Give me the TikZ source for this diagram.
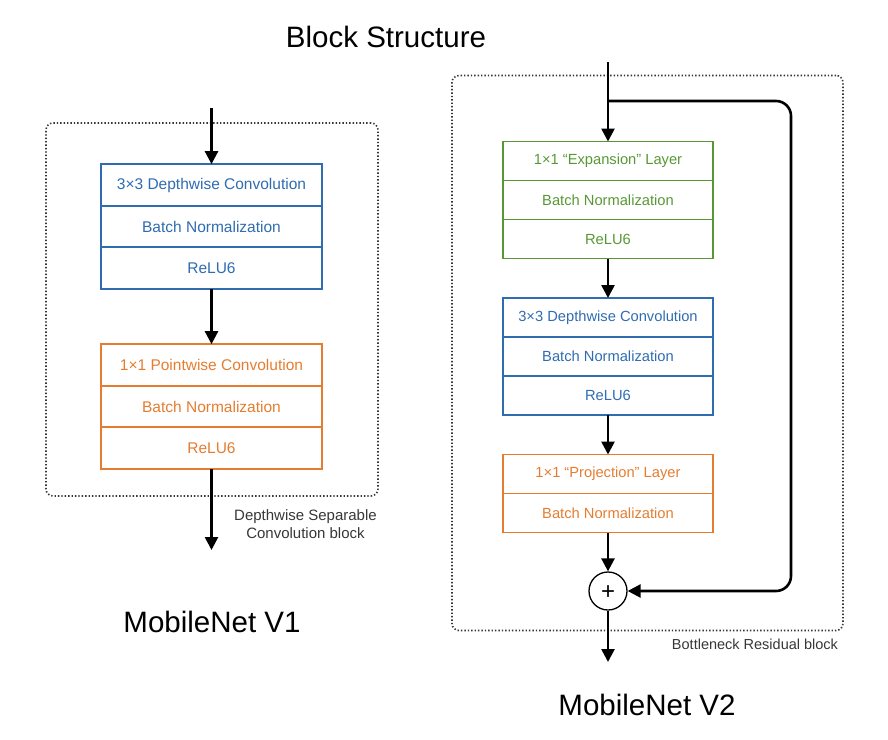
\documentclass[tikz,border=0pt]{standalone}
\usepackage{fontspec}
\setmainfont{Liberation Sans}
\usetikzlibrary{arrows.meta}
\definecolor{cblue}{RGB}{47,108,176}
\definecolor{cgreen}{RGB}{88,152,52}
\definecolor{corange}{RGB}{228,125,48}
\definecolor{cgray}{RGB}{55,55,55}
\tikzset{
  rowL/.style={draw=#1, text=#1, line width=1.6pt, rectangle, inner sep=0pt, outer sep=0pt,
    minimum width=221pt, minimum height=41.7pt, font=\fontsize{15.5}{17}\selectfont},
  rowR/.style={draw=#1, text=#1, line width=1.6pt, rectangle, inner sep=0pt, outer sep=0pt,
    minimum width=210pt, minimum height=39pt, font=\fontsize{14.7}{16}\selectfont},
  arr/.style={line width=2.6pt, -{Triangle[length=13pt,width=13pt]}},
  dotbox/.style={draw=cgray, line width=1.6pt, dash pattern=on 1.4pt off 2pt, rounded corners=7pt, inner sep=0pt},
  title/.style={font=\fontsize{29.5}{33}\selectfont, text=black},
  note/.style={font=\fontsize{15}{18}\selectfont, text=cgray, align=center},
}
\begin{document}
\begin{tikzpicture}[x=1pt,y=-1pt]
\useasboundingbox (0,0) rectangle (888,739);
% titles
\node[title] (ttl) at (386,37) {Block Structure};
\node[title] (v1) at (212,622) {MobileNet V1};
\node[title] (v2) at (647,705) {MobileNet V2};
% dotted blocks
\node[dotbox, minimum width=332pt, minimum height=373pt] (blk1) at (212,309.5) {};
\node[dotbox, minimum width=391pt, minimum height=555pt] (blk2) at (647.5,353) {};
% left column
\node[rowL=cblue] (b1) at (211.5,185) {3×3 Depthwise Convolution};
\node[rowL=cblue] (b2) at (211.5,226.5) {Batch Normalization};
\node[rowL=cblue] (b3) at (211.5,268) {ReLU6};
\node[rowL=corange] (o1) at (211.5,365) {1×1 Pointwise Convolution};
\node[rowL=corange] (o2) at (211.5,406.5) {Batch Normalization};
\node[rowL=corange] (o3) at (211.5,448) {ReLU6};
\coordinate (in1) at (211.5,108);
\coordinate (out1) at (211.5,550);
\draw[arr] (in1) -- (b1.north);
\draw[arr] (b3.south) -- (o1.north);
\draw[arr] (o3.south) -- (out1);
\node[note, anchor=north] (n1) at (305.5,506) {Depthwise Separable\\Convolution block};
% right column
\node[rowR=cgreen] (g1) at (608,161) {1×1 “Expansion” Layer};
\node[rowR=cgreen] (g2) at (608,200) {Batch Normalization};
\node[rowR=cgreen] (g3) at (608,239) {ReLU6};
\node[rowR=cblue] (d1) at (608,317.5) {3×3 Depthwise Convolution};
\node[rowR=cblue] (d2) at (608,356.5) {Batch Normalization};
\node[rowR=cblue] (d3) at (608,395.5) {ReLU6};
\node[rowR=corange] (p1) at (608,474) {1×1 “Projection” Layer};
\node[rowR=corange] (p2) at (608,513) {Batch Normalization};
\node[draw=black, line width=1.3pt, circle, minimum size=38pt, inner sep=0pt] (plus) at (608,591) {};
\node[anchor=base, inner sep=0pt, font=\fontsize{24}{24}\selectfont] (plustxt) at (608,599.4) {+};
\coordinate (in2) at (608,62);
\coordinate (br) at (608,101);
\coordinate (c1) at (791,101);
\coordinate (c2) at (791,591);
\coordinate (out2) at (608,662);
\draw[arr] (in2) -- (g1.north);
\draw[arr] (g3.south) -- (d1.north);
\draw[arr] (d3.south) -- (p1.north);
\draw[arr] (p2.south) -- (plus.north);
\draw[arr] (plus.south) -- (out2);
\draw[arr, rounded corners=15pt] (br) -- (c1) -- (c2) -- (plus.east);
\node[note, font=\fontsize{14.5}{17}\selectfont] (n2) at (755,644) {Bottleneck Residual block};
\end{tikzpicture}
\end{document}
